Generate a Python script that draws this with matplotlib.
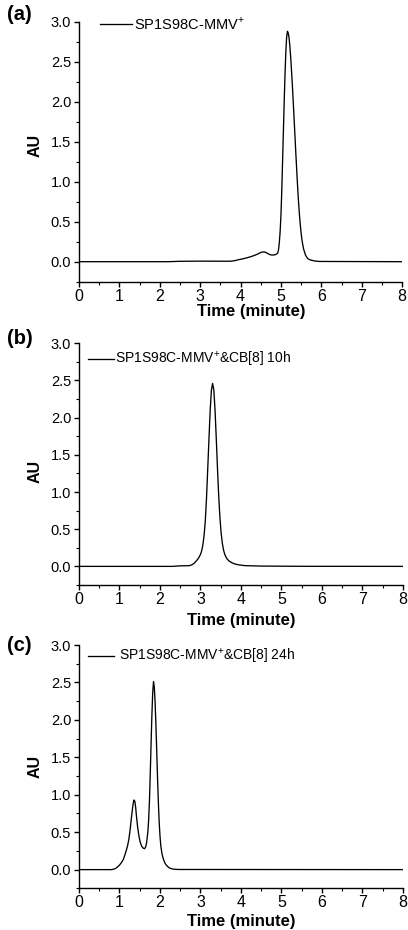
import matplotlib
matplotlib.use("Agg")

import numpy as np
import matplotlib.pyplot as plt
from matplotlib.ticker import MultipleLocator

plt.rcParams["font.family"] = ["Liberation Sans", "DejaVu Sans"]
plt.rcParams["mathtext.fontset"] = "custom"
plt.rcParams["mathtext.rm"] = "Liberation Sans"

# ── Data (time in minutes, absorbance AU) ────────────────────────────────────
time_a = [0.0, 2.2, 2.5, 3.0, 3.5, 3.75, 3.85, 3.95, 4.05, 4.15, 4.25, 4.35, 4.42,
          4.48, 4.53, 4.58, 4.63, 4.68, 4.73, 4.78, 4.82, 4.86, 4.89, 4.92, 4.94,
          4.96, 4.98, 5.00, 5.02, 5.04, 5.06, 5.08, 5.10, 5.12, 5.14, 5.16, 5.18,
          5.20, 5.22, 5.25, 5.28, 5.31, 5.34, 5.37, 5.40, 5.43, 5.46, 5.49, 5.52,
          5.56, 5.61, 5.66, 5.70, 5.76, 5.85, 5.95, 8.0]
au_a = [0.0, 0.0, 0.005, 0.007, 0.006, 0.006, 0.012, 0.025, 0.035, 0.048, 0.062, 0.08, 0.095,
        0.11, 0.12, 0.122, 0.115, 0.10, 0.088, 0.083, 0.084, 0.088, 0.095, 0.11, 0.15,
        0.24, 0.38, 0.58, 0.88, 1.25, 1.62, 1.99, 2.33, 2.61, 2.80, 2.88, 2.86,
        2.80, 2.70, 2.49, 2.23, 1.94, 1.64, 1.34, 1.05, 0.79, 0.57, 0.40, 0.27,
        0.16, 0.08, 0.04, 0.028, 0.017, 0.008, 0.003, 0.0]

time_b = [0.0, 2.3, 2.5, 2.70, 2.75, 2.80, 2.85, 2.90, 2.95, 3.00, 3.03, 3.06, 3.09,
          3.12, 3.15, 3.18, 3.21, 3.24, 3.27, 3.30, 3.33, 3.36, 3.39, 3.42, 3.45,
          3.48, 3.51, 3.54, 3.57, 3.60, 3.65, 3.70, 3.77, 3.85, 3.95, 4.1, 4.5, 5.5, 8.0]
au_b = [0.0, 0.0, 0.007, 0.009, 0.013, 0.025, 0.045, 0.075, 0.11, 0.16, 0.21, 0.29, 0.42,
        0.62, 0.93, 1.32, 1.72, 2.10, 2.37, 2.46, 2.37, 2.10, 1.72, 1.32, 0.95,
        0.66, 0.45, 0.31, 0.22, 0.16, 0.105, 0.075, 0.05, 0.032, 0.02, 0.01, 0.004, 0.001, 0.0]

time_c = [0.0, 0.80, 0.85, 0.90, 0.95, 1.00, 1.05, 1.09, 1.13, 1.17, 1.20, 1.23, 1.26,
          1.29, 1.32, 1.34, 1.36, 1.38, 1.40, 1.42, 1.45, 1.48, 1.51, 1.55, 1.59,
          1.62, 1.645, 1.67, 1.70, 1.72, 1.74, 1.76, 1.78, 1.80, 1.82, 1.84, 1.86,
          1.88, 1.90, 1.92, 1.94, 1.96, 1.98, 2.00, 2.02, 2.05, 2.09, 2.13, 2.18,
          2.24, 2.32, 2.45, 8.0]
au_c = [0.0, 0.0, 0.005, 0.015, 0.035, 0.06, 0.095, 0.13, 0.19, 0.26, 0.32, 0.40, 0.52,
        0.67, 0.81, 0.89, 0.93, 0.91, 0.83, 0.71, 0.56, 0.45, 0.37, 0.31, 0.285,
        0.28, 0.30, 0.36, 0.50, 0.66, 0.92, 1.28, 1.68, 2.06, 2.36, 2.51, 2.44,
        2.23, 1.93, 1.58, 1.22, 0.90, 0.64, 0.45, 0.32, 0.21, 0.13, 0.08, 0.045,
        0.02, 0.007, 0.002, 0.0]

labels = ["SP1S98C-MMV$^{+}$",
          "SP1S98C-MMV$^{+}$&CB[8] 10h",
          "SP1S98C-MMV$^{+}$&CB[8] 24h"]
panel_tags = ["(a)", "(b)", "(c)"]

# ── Layout (figure fractions) ────────────────────────────────────────────────
fig = plt.figure(figsize=(4.08, 9.30), dpi=100)
boxes = [[0.1936, 0.6971, 0.792, 0.2796],
         [0.1936, 0.3710, 0.794, 0.2599],
         [0.1936, 0.0448, 0.794, 0.2616]]
legend_pos = [(0.065, 0.991), (0.028, 0.931), (0.028, 0.952)]
legend_len = [2.2, 1.9, 1.9]
legend_gap = [0.15, 0.05, 0.35]
legend_fs = [10.5, 10, 10]
ylabel_y = [0.523, 0.469, 0.5]
xlabel_x = [0.532, 0.5, 0.5]
xlabel_pad = [0.5, 4.5, 2.5]
tag_y = [1 - 14 / 930, 1 - 339 / 930, 1 - 645 / 930]

series = [(time_a, au_a), (time_b, au_b), (time_c, au_c)]

for i, (t, au) in enumerate(series):
    ax = fig.add_axes(boxes[i])
    line, = ax.plot(t, au, color="black", lw=0.95, label=labels[i])

    ax.set_xlim(0, 8)
    ax.set_ylim(-0.25, 3.0)
    ax.xaxis.set_major_locator(MultipleLocator(1))
    ax.xaxis.set_minor_locator(MultipleLocator(0.5))
    ax.yaxis.set_minor_locator(MultipleLocator(0.25))
    ax.set_yticks(np.arange(0, 3.01, 0.5))
    ax.set_yticklabels([f"{v:.1f}" for v in np.arange(0, 3.01, 0.5)])

    for side in ["top", "right"]:
        ax.spines[side].set_visible(False)
    for side in ["left", "bottom"]:
        ax.spines[side].set_linewidth(1.0)

    ax.tick_params(axis="x", which="major", direction="out", length=3.6, width=1.0,
                   labelsize=11.5, pad=1.5)
    ax.tick_params(axis="x", which="minor", direction="out", length=2.2, width=0.8)
    ax.tick_params(axis="y", which="major", direction="out", length=3.6, width=1.0,
                   labelsize=10.5, pad=2)
    ax.tick_params(axis="y", which="minor", direction="out", length=2.2, width=0.8)

    ax.set_xlabel("Time (minute)", fontsize=12, fontweight="bold", labelpad=xlabel_pad[i])
    ax.xaxis.label.set_x(xlabel_x[i])
    ax.set_ylabel("AU", fontsize=11.5, fontweight="bold", va="center")
    ax.yaxis.set_label_coords(-0.135, ylabel_y[i])

    ax.legend(handles=[line], loc="center left", bbox_to_anchor=legend_pos[i],
              frameon=False, borderpad=0, borderaxespad=0,
              handlelength=legend_len[i], handletextpad=legend_gap[i],
              fontsize=legend_fs[i])

    fig.text(7 / 408, tag_y[i], panel_tags[i], fontsize=14.5, fontweight="bold",
             ha="left", va="center")

fig.savefig("out.png", dpi=100)
plt.close(fig)
